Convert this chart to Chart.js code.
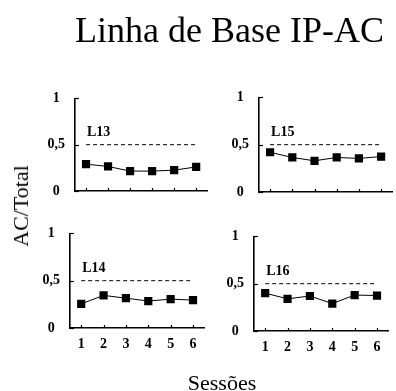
<!DOCTYPE html>
<html>
<head>
<meta charset="utf-8">
<script src="https://cdn.jsdelivr.net/npm/chart.js@4.4.0/dist/chart.umd.min.js"></script>
<style>
  html, body { margin:0; padding:0; background:#fff; }
  #wrap { position:relative; width:396px; height:391px; overflow:hidden; background:#fff; }
  canvas { position:absolute; }
  .txt { position:absolute; font-family:"Liberation Serif","Times New Roman",serif; color:#000; white-space:nowrap; will-change:transform; }
</style>
</head>
<body>
<div id="wrap">
  <div class="txt" id="title" style="left:75px; top:12px; font-size:36px; line-height:36px;">Linha de Base IP-AC</div>
  <div class="txt" id="ytitle" style="left:21px; top:206px; font-size:22px; line-height:22px; transform:translate(-50%,-50%) rotate(-90deg);">AC/Total</div>
  <div class="txt" id="xtitle" style="left:222px; top:372px; font-size:22px; line-height:22px; transform:translateX(-50%);">Sessões</div>
</div>
<script>
// ---- data ----
const sessions = ['1', '2', '3', '4', '5', '6'];
const yTicks = [0, 0.5, 1];
const yTickLabels = ['0', '0,5', '1'];
const criterion = 0.5;
const panelNames = ['L13', 'L15', 'L14', 'L16'];
const L13 = [0.29, 0.265, 0.215, 0.215, 0.225, 0.26];
const L15 = [0.42, 0.365, 0.33, 0.365, 0.355, 0.375];
const L14 = [0.255, 0.345, 0.315, 0.285, 0.305, 0.295];
const L16 = [0.40, 0.34, 0.37, 0.29, 0.38, 0.375];
const seriesValues = [L13, L15, L14, L16];

// ---- layout (page pixels) ----
const geom = [
  { axL: 75,  right: 209, top: 95,  bottom: 190.7, showX: false },
  { axL: 259, right: 394, top: 94,  bottom: 191.7, showX: false },
  { axL: 70,  right: 206, top: 230, bottom: 328.3, showX: true },
  { axL: 254, right: 390, top: 233, bottom: 331,   showX: true }
];
const YW = 45, XH = 28, PT = 15, PR = 4;
const serif = '"Liberation Serif","Times New Roman",serif';

const decorPlugin = {
  id: 'decor',
  afterDatasetsDraw(chart, args, opts) {
    const ctx = chart.ctx;
    const xs = chart.scales.x, ys = chart.scales.y;
    ctx.save();
    ctx.strokeStyle = '#000';
    ctx.lineWidth = 1.2;
    // inward y ticks
    yTicks.forEach(v => {
      const py = Math.round(ys.getPixelForValue(v)) + 0.5;
      ctx.beginPath();
      ctx.moveTo(xs.left, py);
      ctx.lineTo(xs.left + 4, py);
      ctx.stroke();
    });
    // inward x ticks
    sessions.forEach((s, i) => {
      const px = Math.round(xs.getPixelForValue(i)) + 0.5;
      const by = ys.getPixelForValue(0);
      ctx.beginPath();
      ctx.moveTo(px, by);
      ctx.lineTo(px, by - 3);
      ctx.stroke();
    });
    // panel label
    ctx.fillStyle = '#000';
    ctx.font = 'bold 14px ' + serif;
    ctx.textAlign = 'left';
    ctx.textBaseline = 'alphabetic';
    ctx.fillText(opts.label, xs.getPixelForValue(0) + 1, ys.getPixelForValue(criterion) - 9);
    ctx.restore();
  }
};

const wrap = document.getElementById('wrap');
geom.forEach((g, k) => {
  const cv = document.createElement('canvas');
  const left = g.axL - YW;
  const top = g.top - PT;
  const w = (g.right - g.axL) + YW + PR;
  const h = (g.bottom - g.top) + PT + XH;
  cv.width = Math.round(w);
  cv.height = Math.round(h);
  cv.style.left = left + 'px';
  cv.style.top = top + 'px';
  cv.style.width = Math.round(w) + 'px';
  cv.style.height = Math.round(h) + 'px';
  wrap.appendChild(cv);

  new Chart(cv, {
    type: 'line',
    data: {
      labels: sessions,
      datasets: [
        {
          data: seriesValues[k],
          borderColor: '#000',
          backgroundColor: '#000',
          borderWidth: 1,
          pointStyle: 'rect',
          pointRadius: 5.8,
          pointBorderWidth: 0,
          tension: 0
        },
        {
          data: sessions.map(() => criterion),
          borderColor: '#000',
          borderWidth: 1,
          borderDash: [4, 3],
          pointRadius: 0,
          tension: 0
        }
      ]
    },
    options: {
      responsive: false,
      animation: false,
      devicePixelRatio: 1,
      layout: { padding: { top: PT, right: PR, left: 0, bottom: 0 } },
      plugins: {
        legend: { display: false },
        tooltip: { enabled: false },
        title: { display: false },
        decor: { label: panelNames[k] }
      },
      scales: {
        x: {
          type: 'category',
          offset: true,
          grid: { display: false, drawTicks: false },
          border: { display: true, color: '#000', width: 1.6 },
          ticks: {
            display: g.showX,
            padding: 8,
            color: '#000',
            font: { family: serif, size: 14, weight: 'bold' },
            maxRotation: 0,
            autoSkip: false
          },
          afterFit(s) { s.height = XH; }
        },
        y: {
          type: 'linear',
          min: 0,
          max: 1,
          afterBuildTicks(s) { s.ticks = yTicks.map(v => ({ value: v })); },
          grid: { display: false, drawTicks: false },
          border: { display: true, color: '#000', width: 1.6 },
          ticks: {
            padding: 10,
            crossAlign: 'center',
            color: '#000',
            font: { family: serif, size: 14, weight: 'bold' },
            callback(v) { const i = yTicks.indexOf(v); return i >= 0 ? yTickLabels[i] : ''; }
          },
          afterFit(s) { s.width = YW; }
        }
      }
    },
    plugins: [decorPlugin]
  });
});
</script>
</body>
</html>
